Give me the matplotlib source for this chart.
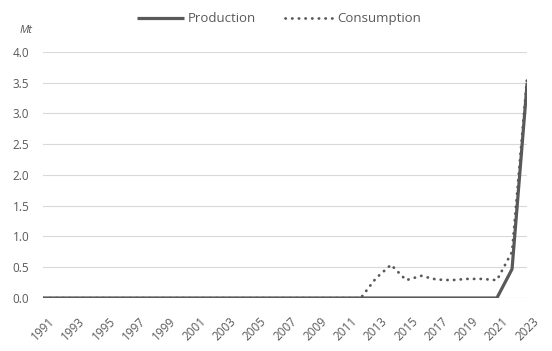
import matplotlib.pyplot as plt
import numpy as np

plt.rcParams['font.family'] = ['Open Sans', 'DejaVu Sans']

# Dados
years = list(range(1991, 2024))
production = [0.0] * 31 + [0.47, 3.5]
consumption = [0.0] * 22 + [0.32, 0.54, 0.29, 0.36, 0.30, 0.29, 0.31, 0.31, 0.29, 0.75, 3.6]

grey = '#595959'
text_grey = '#595959'

fig = plt.figure(figsize=(5.52, 3.51), dpi=100)
ax = fig.add_axes([0.078, 0.151, 0.877, 0.701])

x = np.arange(len(years))
ax.plot(x, production, color=grey, lw=2.3, label='Production', solid_capstyle='butt')
ax.plot(x, consumption, color=grey, lw=2.0, ls=(0, (0.1, 2.3)), dash_capstyle='round',
        label='Consumption')

ax.set_xlim(0, len(years) - 1)
ax.set_ylim(0, 4.0)
ax.set_yticks(np.arange(0, 4.01, 0.5))
ax.set_yticklabels([f'{v:.1f}' for v in np.arange(0, 4.01, 0.5)], fontsize=8.5, color=text_grey)
ax.set_xticks(x[::2])
ax.set_xticklabels([str(y) for y in years[::2]], rotation=45, ha='center', va='top',
                   fontsize=8.5, color=text_grey)
ax.tick_params(axis='y', length=0, pad=10)
ax.tick_params(axis='x', length=0, pad=12)
ax.grid(axis='y', color='#d9d9d9', lw=0.8)
ax.set_axisbelow(True)
for s in ax.spines.values():
    s.set_visible(False)
ax.axhline(0, color='#d9d9d9', lw=0.8, zorder=0)

fig.text(0.036, 0.905, 'Mt', fontsize=8, style='italic', color=text_grey)

fig.legend(loc='center', bbox_to_anchor=(0.505, 0.946), ncol=2, frameon=False,
           fontsize=9.5, labelcolor=text_grey, handlelength=3.6, columnspacing=2.2,
           handletextpad=0.3)

plt.savefig('out.png', dpi=100)
plt.close()
